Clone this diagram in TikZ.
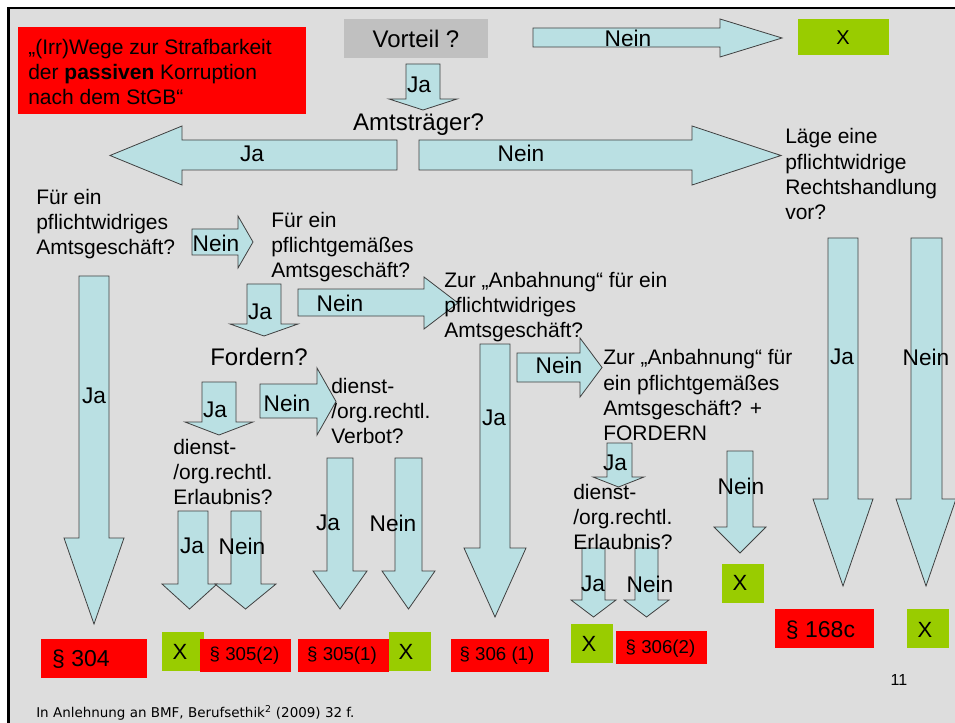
\documentclass[tikz,border=0pt]{standalone}
\usepackage{fontspec}
\setmainfont{Liberation Sans}
\newfontfamily\footfont{DejaVu Sans}
\definecolor{bgray}{RGB}{221,221,221}
\definecolor{arrowblue}{RGB}{186,224,227}
\definecolor{boxred}{RGB}{255,0,0}
\definecolor{boxgreen}{RGB}{153,204,0}
\definecolor{boxgray}{RGB}{192,192,192}
\tikzset{
  barrow/.style={fill=arrowblue, draw=black!75, line width=0.6pt, line join=miter},
  q/.style={anchor=base west, align=left, inner sep=0pt, font=\fontsize{15.75}{18.9}\selectfont},
  qbig/.style={inner sep=0pt, font=\fontsize{18}{21}\selectfont},
  lbl/.style={inner sep=0pt, font=\fontsize{17}{20}\selectfont},
  lawbig/.style={inner sep=0pt, font=\fontsize{17.25}{20}\selectfont},
  lawsmall/.style={inner sep=0pt, font=\fontsize{14}{16}\selectfont},
  xmark/.style={inner sep=0pt, font=\fontsize{16.5}{18}\selectfont}
}
% down arrow: shaft xL, xR, top y, shaft bottom y, head xL, head xR, tip y
\newcommand{\barrowdown}[7]{\draw[barrow] (#1,#3) -- (#2,#3) -- (#2,#4) -- (#6,#4) -- ({(#5+#6)/2},#7) -- (#5,#4) -- (#1,#4) -- cycle;}
% right arrow: shaft xL, shaft top y, shaft bottom y, head base x, head top y, head bottom y, tip x
\newcommand{\barrowright}[7]{\draw[barrow] (#1,#2) -- (#4,#2) -- (#4,#5) -- (#7,{(#5+#6)/2}) -- (#4,#6) -- (#4,#3) -- (#1,#3) -- cycle;}
% left arrow: shaft xR, shaft top y, shaft bottom y, head base x, head top y, head bottom y, tip x
\newcommand{\barrowleft}[7]{\draw[barrow] (#1,#2) -- (#4,#2) -- (#4,#5) -- (#7,{(#5+#6)/2}) -- (#4,#6) -- (#4,#3) -- (#1,#3) -- cycle;}
\begin{document}
\begin{tikzpicture}[x=0.75pt,y=-0.75pt]
\useasboundingbox (0,0) rectangle (955,723);
% background
\fill[white] (0,0) rectangle (955,723);
\fill[bgray] (8.5,8) rectangle (955,723);
\draw[line width=1.8pt] (8.5,723) -- (8.5,8) -- (955,8);

% title box
\fill[boxred] (18,27) rectangle (306,114);
\node[q] (title) at (28,104.5) {„(Irr)Wege zur Strafbarkeit\\der \textbf{passiven} Korruption\\nach dem StGB“};

% Vorteil
\fill[boxgray] (344,19) rectangle (488,58);
\node[qbig] (vorteil) at (416,38.5) {Vorteil ?};

% top arrows
\barrowright{533}{28}{47}{720}{19}{57}{782}
\node[lbl] (neinTop) at (628,38) {Nein};
\fill[boxgreen] (798,19) rectangle (889,55);
\node[inner sep=0pt, font=\fontsize{15}{17}\selectfont] (xTop) at (843,38) {X};

\barrowdown{406}{440}{64}{99}{389}{457}{110}
\node[lbl] (jaTop) at (419,85) {Ja};

\node[qbig, anchor=base] (amts) at (418.5,130.5) {Amtsträger?};

% big horizontal arrows
\barrowleft{397}{140}{170}{182}{126}{185}{110}
\node[lbl] (jaBig) at (252,154) {Ja};
\barrowright{419}{140}{170}{692}{126}{185}{781}
\node[lbl] (neinBig) at (521,153) {Nein};

% right branch
\node[q] (laege) at (785,219.5) {Läge eine\\pflichtwidrige\\Rechtshandlung\\vor?};
\barrowdown{828}{858}{238}{499}{813}{873}{586}
\node[lbl] (jaR) at (842,357) {Ja};
\barrowdown{911}{942}{238}{499}{896}{956}{586}
\node[lbl] (neinR) at (926,357) {Nein};
\fill[boxred] (775,609) rectangle (874,648);
\node[lawbig] (p168c) at (820.5,630) {§ 168c};
\fill[boxgreen] (907,609) rectangle (949,648);
\node[xmark] (xR) at (925,630) {X};

% left branch
\node[q] (fuerwid) at (36,254.5) {Für ein\\pflichtwidriges\\Amtsgeschäft?};
\barrowdown{79}{109}{276}{538}{64}{124}{624}
\node[lbl] (ja304) at (94,396) {Ja};
\fill[boxred] (41,639) rectangle (147,678);
\node[lawbig] (p304) at (81,659) {§ 304};

\barrowright{192}{229}{255}{238}{216}{268}{253}
\node[lbl] (nein1) at (216,243) {Nein};
\node[q] (fuergem) at (271,277.5) {Für ein\\pflichtgemäßes\\Amtsgeschäft?};

\barrowdown{247}{281}{284}{324}{230}{298}{336}
\node[lbl] (jaGem) at (260,312) {Ja};
\node[qbig, anchor=base west] (fordern) at (210,365.5) {Fordern?};

\barrowright{298}{289}{316}{424}{277}{329}{458}
\node[lbl] (nein2) at (340,303) {Nein};

% Fordern branches
\barrowdown{202}{236}{382}{422}{185}{253}{435}
\node[lbl] (jaFord) at (215,410) {Ja};
\barrowright{260}{384}{418}{317}{368}{435}{336}
\node[lbl] (nein4) at (287,403) {Nein};
\node[q] (verbot) at (331,443.5) {dienst-\\/org.rechtl.\\Verbot?};

% Erlaubnis (left) branches
\barrowdown{178}{208}{511}{584}{162}{217}{609}
\barrowdown{231}{261}{511}{584}{215}{276}{609}
\node[q] (erl1) at (173,504.5) {dienst-\\/org.rechtl.\\Erlaubnis?};
\node[lbl] (jaErl1) at (192,546) {Ja};
\node[lbl] (neinErl1) at (242,546) {Nein};

% Verbot branches
\barrowdown{327}{353}{458}{571}{313}{367}{609}
\node[lbl] (jaVerb) at (328,523) {Ja};
\barrowdown{395}{422}{458}{571}{382}{435}{609}
\node[lbl] (neinVerb) at (393,523) {Nein};

% bottom boxes left
\fill[boxgreen] (162,632) rectangle (204,671);
\node[xmark] (x1) at (180,652) {X};
\fill[boxred] (200,639) rectangle (291,672);
\node[lawsmall] (p3052) at (244.5,656) {§ 305(2)};
\fill[boxred] (298,639) rectangle (389,672);
\node[lawsmall] (p3051) at (342,656) {§ 305(1)};
\fill[boxgreen] (389,632) rectangle (431,671);
\node[xmark] (x2) at (406,652) {X};

% Anbahnung pflichtwidrig
\barrowdown{480}{510}{344}{548}{464}{526}{617}
\node[q] (anb1) at (444,337.5) {Zur „Anbahnung“ für ein\\pflichtwidriges\\Amtsgeschäft?};
\node[lbl] (ja306) at (494,418) {Ja};
\fill[boxred] (451,639) rectangle (549,672);
\node[lawsmall] (p3061) at (497,656) {§ 306 (1)};

\barrowright{517}{353}{382}{580}{338}{397}{602}
\node[lbl] (nein3) at (559,365) {Nein};

% Anbahnung pflichtgemaess
\node[q] (anb2) at (603,440.5) {Zur „Anbahnung“ für\\ein pflichtgemäßes\\Amtsgeschäft? +\\FORDERN};
\barrowdown{607}{632}{443}{477}{593}{644}{487}
\node[lbl] (jaAnb2) at (615,463) {Ja};
\barrowdown{727}{753}{451}{527}{714}{766}{553}
\node[lbl] (neinAnb2) at (741,486) {Nein};
\fill[boxgreen] (722,564) rectangle (764,603);
\node[xmark] (x3) at (740,583) {X};

\barrowdown{582}{605}{548}{600}{571}{616}{617}
\barrowdown{635}{658}{548}{600}{624}{669}{617}
\node[q] (erl2) at (573,549.5) {dienst-\\/org.rechtl.\\Erlaubnis?};
\node[lbl] (jaErl2) at (593,584) {Ja};
\node[lbl] (neinErl2) at (650,584) {Nein};
\fill[boxgreen] (571,624) rectangle (613,663);
\node[xmark] (x4) at (589,644) {X};
\fill[boxred] (616,631) rectangle (707,664);
\node[lawsmall] (p3062) at (660.5,649) {§ 306(2)};

% page number and footer
\node[inner sep=0pt, font=\fontsize{12}{14}\selectfont] (pagenum) at (899,680) {11};
\node[inner sep=0pt, anchor=base west, font=\footfont\fontsize{10.1}{12}\selectfont] (footer) at (36,717) {In Anlehnung an BMF, Berufsethik\textsuperscript{2} (2009) 32 f.};
\end{tikzpicture}
\end{document}
